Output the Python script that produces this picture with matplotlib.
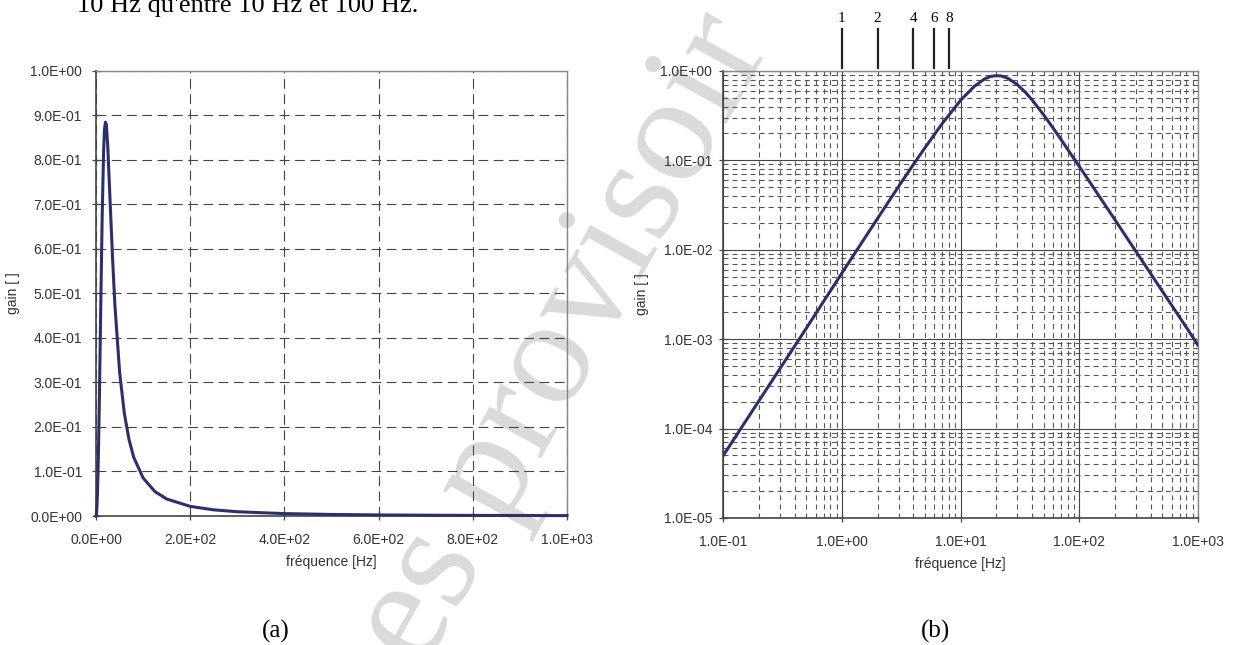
import numpy as np
import matplotlib.pyplot as plt
from matplotlib.ticker import FuncFormatter, MultipleLocator, LogLocator, NullFormatter

plt.rcParams['font.family'] = 'Liberation Sans'
plt.rcParams['lines.scale_dashes'] = False

# gain du filtre relevé en fonction de la fréquence
freq = [0, 0.1, 0.2, 0.5, 1, 2, 3, 4, 5, 7, 10, 13, 16, 18, 20, 22, 25, 30, 35, 40,
        50, 60, 70, 80, 100, 125, 150, 200, 250, 300, 400, 500, 600, 700, 800, 1000]
gain = [0, 5.0e-5, 2.05e-4, 1.32e-3, 5.5e-3, 0.0225, 0.051, 0.09, 0.138, 0.258, 0.47,
        0.67, 0.818, 0.87, 0.885, 0.879, 0.828, 0.704, 0.581, 0.475,
        0.324, 0.231, 0.172, 0.132, 0.0855, 0.055, 0.0382, 0.0216, 0.0138, 0.0096,
        0.0054, 0.00345, 0.0024, 0.00176, 0.00135, 0.00086]

# repères de fréquence au-dessus du diagramme log
reperes = [1, 2, 4, 6, 8]

navy = '#2d2f6b'
sci = FuncFormatter(lambda v, p: f'{v:.1E}')

fig = plt.figure(figsize=(12.36, 6.45), dpi=100)

# filigrane
fig.text(0.457, 0.472, 'es provisoir', rotation=61, rotation_mode='anchor',
         ha='center', va='center', fontsize=110, family='Liberation Serif',
         color='#dadada', zorder=-1)

fig.text(77 / 1236, 1 - 12 / 645, "10 Hz qu'entre 10 Hz et 100 Hz.",
         family='Liberation Serif', fontsize=19, va='baseline')


def habillage(ax):
    ax.set_facecolor('none')
    ax.set_axisbelow(True)
    for s in ['left', 'bottom']:
        ax.spines[s].set_color('#444444')
        ax.spines[s].set_linewidth(1.2)
    for s in ['top', 'right']:
        ax.spines[s].set_color('#8c8480')
        ax.spines[s].set_linewidth(1.0)
    ax.tick_params(which='major', direction='inout', length=6, width=0.9,
                   color='#444444', labelcolor='#333333', labelsize=10)
    ax.tick_params(axis='x', pad=9)
    ax.xaxis.set_major_formatter(sci)
    ax.yaxis.set_major_formatter(sci)


# (a) échelle linéaire
ax1 = fig.add_axes([0.0777, 0.2, 0.381, 0.69])
ax1.plot(freq, gain, color=navy, lw=2.2, zorder=3, clip_on=False)
ax1.set_xlim(0, 1000)
ax1.set_ylim(0, 1)
ax1.xaxis.set_major_locator(MultipleLocator(200))
ax1.yaxis.set_major_locator(MultipleLocator(0.1))
ax1.grid(True, color='#444444', lw=0.8, ls=(0, (7, 4)))
habillage(ax1)
ax1.tick_params(axis='y', pad=7)
ax1.set_xlabel('fréquence [Hz]', fontsize=10, color='#333333', labelpad=6)
ax1.set_ylabel('gain [ ]', fontsize=10, color='#333333', labelpad=7)

# (b) échelle log-log
ax2 = fig.add_axes([0.5852, 0.197, 0.384, 0.693])
ax2.plot(freq[1:], gain[1:], color=navy, lw=2.2, zorder=3)
ax2.set_xscale('log')
ax2.set_yscale('log')
ax2.set_xlim(0.1, 1000)
ax2.set_ylim(1e-5, 1)
for axis in [ax2.xaxis, ax2.yaxis]:
    axis.set_major_locator(LogLocator(base=10, numticks=12))
    axis.set_minor_locator(LogLocator(base=10, subs=np.arange(2, 10), numticks=100))
    axis.set_minor_formatter(NullFormatter())
ax2.grid(which='major', color='#444444', lw=0.8, ls='-')
ax2.grid(which='minor', color='#555555', lw=0.8, ls=(0, (3.6, 2.9)))
habillage(ax2)
ax2.tick_params(which='minor', length=0)
ax2.tick_params(axis='y', pad=5)
ax2.set_xlabel('fréquence [Hz]', fontsize=10, color='#333333', labelpad=6)
ax2.set_ylabel('gain [ ]', fontsize=10, color='#333333', labelpad=8)

trans = ax2.get_xaxis_transform()
for m in reperes:
    ax2.plot([m, m], [1.007, 1.094], transform=trans, color='#222222', lw=1.6,
             clip_on=False)
    ax2.text(m, 1.103, str(m), transform=trans, ha='center', va='bottom',
             family='Liberation Serif', fontsize=11)

fig.text(276 / 1236, 1 - 631 / 645, '(a)', ha='center', va='center',
         family='Liberation Serif', fontsize=18)
fig.text(936 / 1236, 1 - 631 / 645, '(b)', ha='center', va='center',
         family='Liberation Serif', fontsize=18)

fig.savefig('out.png', dpi=100)
